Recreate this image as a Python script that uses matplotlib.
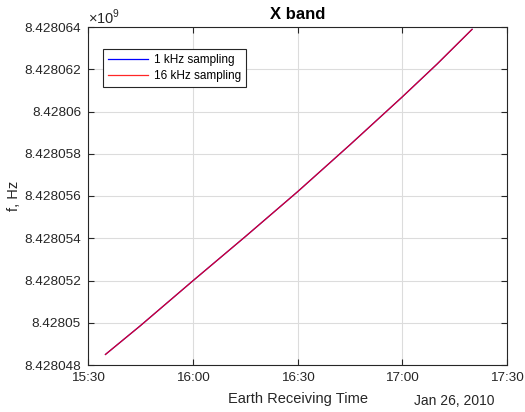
import matplotlib
matplotlib.use("Agg")
import matplotlib.pyplot as plt
from datetime import datetime

plt.rcParams['font.family'] = ['Liberation Sans', 'DejaVu Sans']
plt.rcParams['mathtext.fontset'] = 'custom'
plt.rcParams['mathtext.rm'] = 'Liberation Sans'

# Data (time of day on Jan 26, 2010; frequency in Hz)
times = ["15:35", "15:45", "16:00", "16:15", "16:30", "16:45", "17:00", "17:10", "17:20"]
freq_1khz = [8428048500, 8428049860, 8428051980, 8428054070, 8428056200,
             8428058420, 8428060690, 8428062250, 8428063890]
freq_16khz = [8428048500, 8428049860, 8428051980, 8428054070, 8428056200,
              8428058420, 8428060690, 8428062250, 8428063890]
series_labels = ["1 kHz sampling", "16 kHz sampling"]
xtick_labels = ["15:30", "16:00", "16:30", "17:00", "17:30"]
ytick_values = [8428048000, 8428050000, 8428052000, 8428054000, 8428056000,
                8428058000, 8428060000, 8428062000, 8428064000]
ytick_labels = ["8.428048", "8.42805", "8.428052", "8.428054", "8.428056",
                "8.428058", "8.42806", "8.428062", "8.428064"]

day = "2010-01-26 "
t = [datetime.strptime(day + s, "%Y-%m-%d %H:%M") for s in times]
xt = [datetime.strptime(day + s, "%Y-%m-%d %H:%M") for s in xtick_labels]

fig = plt.figure(figsize=(5.25, 4.12), dpi=100)
ax = fig.add_axes([88/525, 1-365/412, (507-88)/525, (365-27)/412])

dark = '#262626'
ax.plot(t, freq_1khz, color='#0000ff', lw=0.9, label=series_labels[0])
ax.plot(t, freq_16khz, color='#ff0000', lw=0.9, alpha=0.85, label=series_labels[1])

ax.set_xlim(xt[0], xt[-1])
ax.set_ylim(ytick_values[0], ytick_values[-1])
ax.set_xticks(xt)
ax.set_xticklabels(xtick_labels)
ax.set_yticks(ytick_values)
ax.set_yticklabels(ytick_labels)

ax.grid(True, color='#dcdcdc', lw=0.8)
ax.set_axisbelow(True)
ax.tick_params(direction='in', length=4, width=0.8, colors=dark, labelsize=9.7,
               top=True, right=True, pad=5)
for sp in ax.spines.values():
    sp.set_color(dark)
    sp.set_linewidth(0.8)

ax.set_title("X band", fontsize=12, fontweight='bold', color='black', pad=6)
ax.set_ylabel("f, Hz", fontsize=10.5, color=dark)
ax.yaxis.set_label_coords(-0.16, 0.5)
ax.set_xlabel("Earth Receiving Time", fontsize=10.5, color=dark, labelpad=6)
ax.text(0.0, 1.0, r"$\times10^{9}$", transform=ax.transAxes, fontsize=10.5,
        color=dark, ha='left', va='bottom')
ax.text(0.875, -0.087, "Jan 26, 2010", transform=ax.transAxes, fontsize=10,
        color=dark, ha='center', va='top')

leg = ax.legend(loc='upper left', bbox_to_anchor=(0.036, 0.935), fontsize=8.5,
                frameon=True, fancybox=False, edgecolor=dark, framealpha=1,
                handlelength=3.4, borderpad=0.4, labelspacing=0.4,
                handletextpad=0.5, borderaxespad=0)
leg.get_frame().set_linewidth(0.8)

fig.savefig("out.png", dpi=100)
